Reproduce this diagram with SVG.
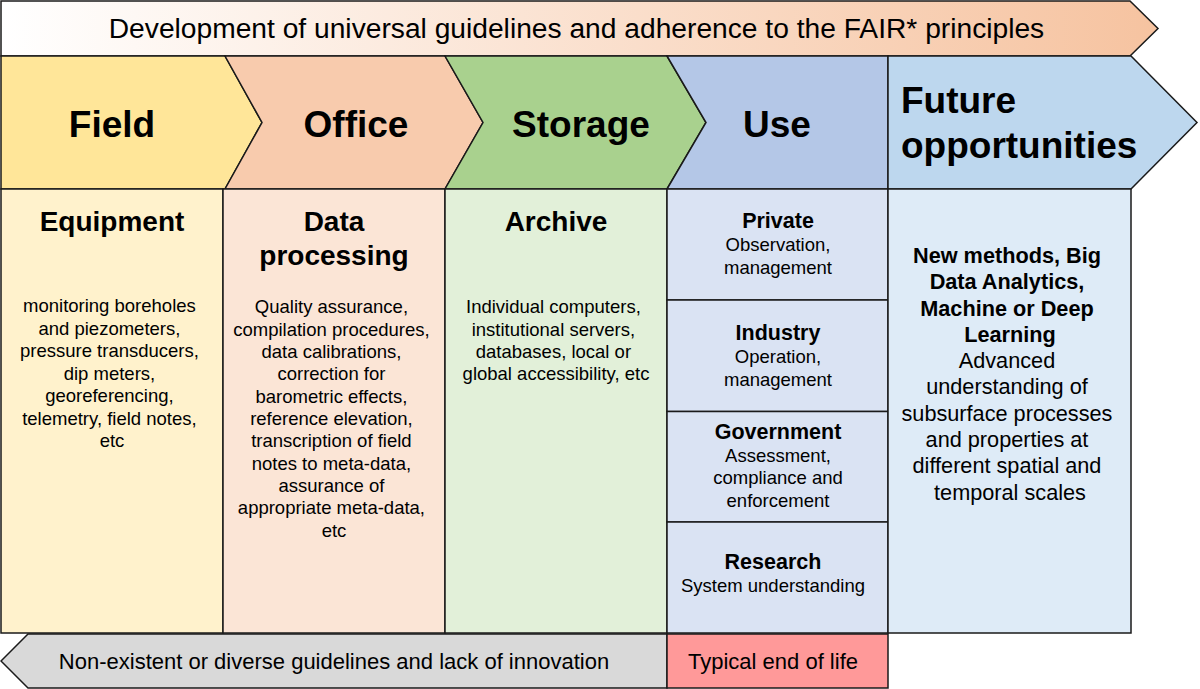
<svg xmlns="http://www.w3.org/2000/svg" width="1200" height="689" viewBox="0 0 1200 689">
<defs>
<linearGradient id="bannerGrad" x1="0" y1="0" x2="1" y2="0">
<stop offset="0" stop-color="#FFFFFF"/>
<stop offset="1" stop-color="#F6C3A0"/>
</linearGradient>
<style>
.shape{stroke:#1a1a1a;stroke-width:1.5;stroke-linejoin:miter}
text{font-family:"Liberation Sans",Arial,sans-serif;fill:#000;text-anchor:middle}
.banner{font-size:28.2px}
.title{font-size:37px;font-weight:bold}
.head{font-size:28px;font-weight:bold}
.body{font-size:18.5px}
.usehead{font-size:21.5px;font-weight:bold}
.fut{font-size:21.7px}
.futb{font-size:21.7px;font-weight:bold}
.bottom{font-size:22px}
</style>
</defs>
<rect width="1200" height="689" fill="#FFFFFF"/>

<g id="banner-top">
<polygon class="shape" fill="url(#bannerGrad)" points="1,1 1130,1 1158,28.5 1130,56 1,56"/>
<text class="banner" x="576.5" y="38">Development of universal guidelines and adherence to the FAIR* principles</text>
</g>

<g id="field-header">
<polygon class="shape" fill="#FFE699" points="1,56 225,56 262,122.5 225,189 1,189"/>
<text class="title" x="112" y="137">Field</text>
</g>
<g id="office-header">
<polygon class="shape" fill="#F8CBAD" points="225,56 445,56 483,122.5 445,189 225,189 262,122.5"/>
<text class="title" x="356" y="137">Office</text>
</g>
<g id="storage-header">
<polygon class="shape" fill="#A9D18E" points="445,56 667,56 706,122.5 667,189 445,189 483,122.5"/>
<text class="title" x="581" y="137">Storage</text>
</g>
<g id="use-header">
<polygon class="shape" fill="#B4C7E7" points="667,56 888,56 888,189 667,189 706,122.5"/>
<text class="title" x="777" y="137">Use</text>
</g>
<g id="future-header">
<polygon class="shape" fill="#BDD7EE" points="888,56 1131,56 1197,122.5 1131,189 888,189"/>
<text class="title" x="901" y="113" style="text-anchor:start">Future</text>
<text class="title" x="901" y="158" style="text-anchor:start">opportunities</text>
</g>

<g id="field-body">
<rect class="shape" fill="#FFF2CC" x="1" y="189" width="222" height="444"/>
<text class="head" x="112" y="231">Equipment</text>
<text class="body" x="112">
<tspan x="112" y="312">monitoring boreholes</tspan>
<tspan x="112" y="334.5">and piezometers,</tspan>
<tspan x="112" y="357">pressure transducers,</tspan>
<tspan x="112" y="379.5">dip meters,</tspan>
<tspan x="112" y="402">georeferencing,</tspan>
<tspan x="112" y="424.5">telemetry, field notes,</tspan>
<tspan x="112" y="447">etc</tspan>
</text>
</g>

<g id="office-body">
<rect class="shape" fill="#FBE5D6" x="223" y="189" width="222" height="444"/>
<text class="head" x="334" y="231">Data</text>
<text class="head" x="334" y="264.5">processing</text>
<text class="body">
<tspan x="334" y="313.3">Quality assurance,</tspan>
<tspan x="334" y="335.6">compilation procedures,</tspan>
<tspan x="334" y="358">data calibrations,</tspan>
<tspan x="334" y="380.3">correction for</tspan>
<tspan x="334" y="402.7">barometric effects,</tspan>
<tspan x="334" y="425">reference elevation,</tspan>
<tspan x="334" y="447.3">transcription of field</tspan>
<tspan x="334" y="469.7">notes to meta-data,</tspan>
<tspan x="334" y="492">assurance of</tspan>
<tspan x="334" y="514.3">appropriate meta-data,</tspan>
<tspan x="334" y="536.7">etc</tspan>
</text>
</g>

<g id="storage-body">
<rect class="shape" fill="#E2F0D9" x="445" y="189" width="222" height="444"/>
<text class="head" x="556" y="231">Archive</text>
<text class="body">
<tspan x="556" y="313.3">Individual computers,</tspan>
<tspan x="556" y="335.6">institutional servers,</tspan>
<tspan x="556" y="358">databases, local or</tspan>
<tspan x="556" y="380.3">global accessibility, etc</tspan>
</text>
</g>

<g id="use-private">
<rect class="shape" fill="#DAE3F3" x="667" y="189" width="221" height="111"/>
<text class="usehead" x="778" y="228">Private</text>
<text class="body"><tspan x="778" y="251">Observation,</tspan><tspan x="778" y="273.5">management</tspan></text>
</g>
<g id="use-industry">
<rect class="shape" fill="#DAE3F3" x="667" y="300" width="221" height="111.5"/>
<text class="usehead" x="778" y="339.5">Industry</text>
<text class="body"><tspan x="778" y="363">Operation,</tspan><tspan x="778" y="385.5">management</tspan></text>
</g>
<g id="use-government">
<rect class="shape" fill="#DAE3F3" x="667" y="411.5" width="221" height="110.5"/>
<text class="usehead" x="778" y="438.5">Government</text>
<text class="body"><tspan x="778" y="461.7">Assessment,</tspan><tspan x="778" y="484.2">compliance and</tspan><tspan x="778" y="506.7">enforcement</tspan></text>
</g>
<g id="use-research">
<rect class="shape" fill="#DAE3F3" x="667" y="522" width="221" height="111"/>
<text class="usehead" x="773" y="568.5">Research</text>
<text class="body"><tspan x="773" y="591.7">System understanding</tspan></text>
</g>

<g id="future-body">
<rect class="shape" fill="#DEEBF7" x="888" y="189" width="243" height="444"/>
<text class="futb">
<tspan x="1010" y="262.7">New methods, Big</tspan>
<tspan x="1010" y="289.2">Data Analytics,</tspan>
<tspan x="1010" y="315.5">Machine or Deep</tspan>
<tspan x="1010" y="341.8">Learning</tspan>
</text>
<text class="fut">
<tspan x="1010" y="368">Advanced</tspan>
<tspan x="1010" y="394.3">understanding of</tspan>
<tspan x="1010" y="420.7">subsurface processes</tspan>
<tspan x="1010" y="447">and properties at</tspan>
<tspan x="1010" y="473.3">different spatial and</tspan>
<tspan x="1010" y="499.6">temporal scales</tspan>
</text>
</g>

<g id="bottom-guidelines">
<polygon class="shape" fill="#D9D9D9" points="28,634 667,634 667,688 28,688 1,661"/>
<text class="bottom" x="334" y="669">Non-existent or diverse guidelines and lack of innovation</text>
</g>
<g id="end-of-life">
<rect class="shape" fill="#FF9999" x="667" y="634" width="221" height="54"/>
<text class="bottom" x="773" y="669">Typical end of life</text>
</g>

<g id="connectors"></g>
</svg>
